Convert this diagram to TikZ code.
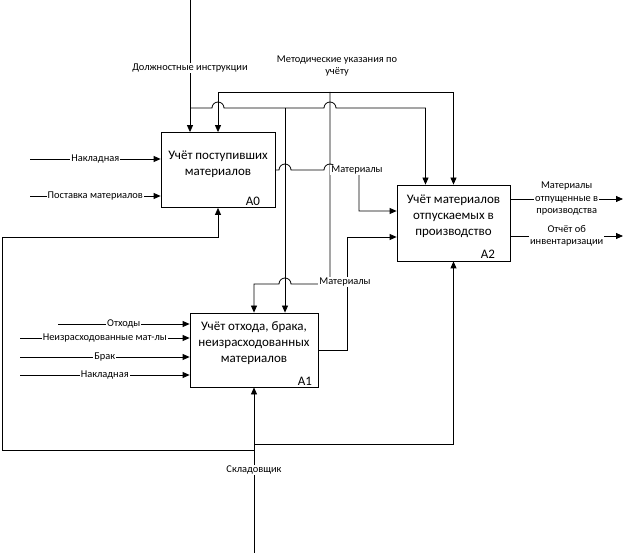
\documentclass[tikz,border=0pt]{standalone}
\usepackage{fontspec}
\setmainfont{Carlito}
\usetikzlibrary{arrows.meta}

\begin{document}
\begin{tikzpicture}[x=1pt,y=-1pt,>={Triangle[length=7pt,width=6pt]}, line width=0.8pt,
  proc/.style={draw, rectangle, inner sep=0pt, minimum width=114pt, minimum height=75pt},
  ptitle/.style={align=center, font=\fontsize{13}{16}\selectfont},
  pnum/.style={anchor=south east, inner sep=2pt, font=\fontsize{13}{14}\selectfont},
  lbl/.style={fill=white, inner sep=1pt, align=center, font=\fontsize{10.4}{12.5}\selectfont}]
  \useasboundingbox (0,0) rectangle (624,553);

  % blocks
  \node[proc] (a0) at (218,170) {};
  \node[ptitle] (a0t) at (218,164) {Учёт поступивших\\материалов};
  \node[pnum] (a0n) at ([xshift=-13]a0.south east) {A0};
  \node[proc, minimum width=113pt, minimum height=76pt] (a2) at (453.5,223) {};
  \node[ptitle] (a2t) at (453.5,216) {Учёт материалов\\отпускаемых в\\производство};
  \node[pnum] (a2n) at ([xshift=-13]a2.south east) {A2};
  \node[proc, minimum width=128pt, minimum height=74pt] (a1) at (254,350) {};
  \node[ptitle] (a1t) at (254,343) {Учёт отхода, брака,\\неизрасходованных\\материалов};
  \node[pnum] (a1n) at ([xshift=-4]a1.south east) {A1};

  % inputs
  \coordinate (nakl0) at (30,159);
  \coordinate (post) at (30,196);
  \coordinate (otx) at (58,324);
  \coordinate (neizr) at (20,338);
  \coordinate (brak) at (20,357);
  \coordinate (nakl1) at (20,375);
  \draw[->] (nakl0) -- ([yshift=11]a0.west) node[lbl, midway] (l1) {Накладная};
  \draw[->] (post) -- ([yshift=-26]a0.west) node[lbl, midway] (l2) {Поставка материалов};
  \draw[->] (otx) -- ([yshift=26]a1.west) node[lbl, midway] (l3) {Отходы};
  \draw[->] (neizr) -- ([yshift=12]a1.west) node[lbl, midway] (l4) {Неизрасходованные мат-лы};
  \draw[->] (brak) -- ([yshift=-7]a1.west) node[lbl, midway] (l5) {Брак};
  \draw[->] (nakl1) -- ([yshift=-25]a1.west) node[lbl, midway] (l6) {Накладная};

  % controls
  \coordinate (dtop) at (190,0);
  \coordinate (dj) at (190,108);
  \coordinate (mj) at (330,92);
  \draw[->] (dtop) -- ([xshift=-28]a0.north);
  \node[lbl] (dlab) at (190,68) {Должностные инструкции};
  \draw[->] (dj) -- (212,108) arc[start angle=180, end angle=0, radius=6pt]
    -- (324,108) arc[start angle=180, end angle=0, radius=6pt] -| ([xshift=-28]a2.north);
  \draw[->] (285,108) -- ([xshift=31]a1.north);
  \draw[->] (mj) -| (a0.north);
  \draw[->] (mj) -| (a2.north);
  \draw[->] (mj) -- (330,284) -- (291,284) arc[start angle=0, end angle=180, radius=6pt] -| (a1.north);
  \node[lbl, fill=none] (mlab) at (337,66) {Методические указания по\\учёту};

  % outputs
  \draw[->] (a0.east) -- (279,170) arc[start angle=180, end angle=0, radius=6pt]
    -- (324,170) arc[start angle=180, end angle=0, radius=6pt] -- (359,170) |- ([yshift=12]a2.west);
  \node[lbl] (mat0) at (357,170) {Материалы};
  \draw[->] (a1.east) -- (347,350) |- ([yshift=-14]a2.west);
  \node[lbl] (mat1) at (345,282) {Материалы};
  \coordinate (out1) at (623,199);
  \coordinate (out2) at (623,236);
  \draw[->] ([yshift=24]a2.east) -- (out1) node[lbl, midway] (l7) {Материалы\\отпущенные в\\производства};
  \draw[->] ([yshift=-13]a2.east) -- (out2) node[lbl, midway] (l8) {Отчёт об\\инвентаризации};

  % mechanisms
  \coordinate (sk) at (254,553);
  \draw[->] (sk) -- (a1.south);
  \draw[->] (254,444) -| (a2.south);
  \draw[->] (254,450) -| (2,237) -| (a0.south);
  \node[lbl] (sklad) at (254,470) {Складовщик};
\end{tikzpicture}
\end{document}
